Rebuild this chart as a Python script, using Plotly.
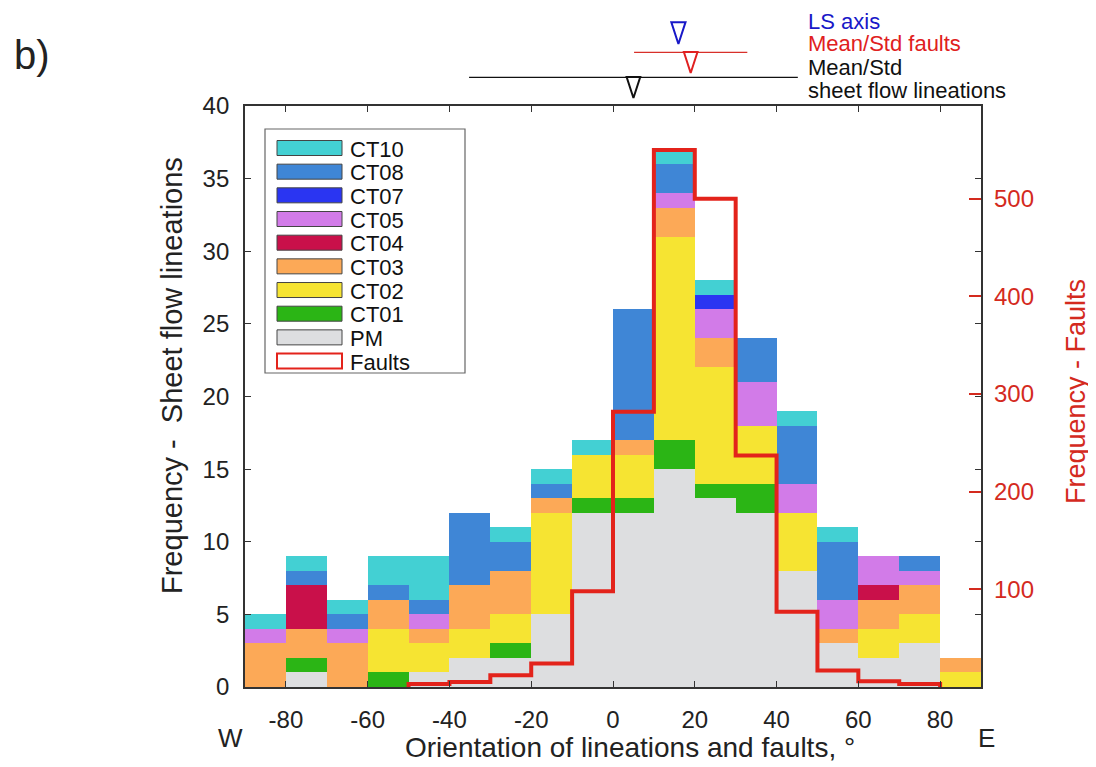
import plotly.graph_objects as go

# ---------------- data ----------------
BIN_CENTERS = [-85, -75, -65, -55, -45, -35, -25, -15, -5, 5, 15, 25, 35, 45, 55, 65, 75, 85]
BIN_WIDTH = 10

PM   = [0, 1, 0, 0, 1, 2, 2, 5, 12, 12, 15, 13, 12, 8, 3, 2, 3, 0]
CT01 = [0, 1, 0, 1, 0, 0, 1, 0, 1, 1, 2, 1, 2, 0, 0, 0, 0, 0]
CT02 = [0, 0, 0, 3, 2, 2, 2, 7, 3, 3, 14, 8, 4, 4, 0, 2, 2, 1]
CT03 = [3, 2, 3, 2, 1, 3, 3, 1, 0, 1, 2, 2, 0, 0, 1, 2, 2, 1]
CT04 = [0, 3, 0, 0, 0, 0, 0, 0, 0, 0, 0, 0, 0, 0, 0, 1, 0, 0]
CT05 = [1, 0, 1, 0, 1, 0, 0, 0, 0, 0, 1, 2, 3, 2, 2, 2, 1, 0]
CT07 = [0, 0, 0, 0, 0, 0, 0, 0, 0, 0, 0, 1, 0, 0, 0, 0, 0, 0]
CT08 = [0, 1, 1, 1, 1, 5, 2, 1, 0, 9, 2, 0, 3, 4, 4, 0, 1, 0]
CT10 = [1, 1, 1, 2, 3, 0, 1, 1, 1, 0, 1, 1, 0, 1, 1, 0, 0, 0]

FAULTS = [0, 0, 0, 0, 3, 5, 12, 24, 98, 282, 550, 500, 237, 77, 17, 6, 3, 0]

LS_AXIS = 16.0
FAULT_MEAN, FAULT_STD = 19.0, 13.85
LIN_MEAN, LIN_STD = 5.0, 40.2

X_TICKS = [-80, -60, -40, -20, 0, 20, 40, 60, 80]
X_TICK_LABELS = ["-80", "-60", "-40", "-20", "0", "20", "40", "60", "80"]
Y_TICKS = [0, 5, 10, 15, 20, 25, 30, 35, 40]
Y2_TICKS = [100, 200, 300, 400, 500]

# stacking order bottom -> top
SERIES = [
    ("PM", PM, "#DDDEE0"),
    ("CT01", CT01, "#2BB515"),
    ("CT02", CT02, "#F6E432"),
    ("CT03", CT03, "#FCA957"),
    ("CT04", CT04, "#C9104A"),
    ("CT05", CT05, "#D27BE8"),
    ("CT07", CT07, "#2A35F2"),
    ("CT08", CT08, "#3F86D6"),
    ("CT10", CT10, "#43D0D3"),
]
RED = "#E3231B"
AXRED = "#D42A1E"
FONT = "Liberation Sans, Arial, Helvetica, sans-serif"
TXT = "#222222"

# ---------------- geometry helpers (screen pixels; page body has 8px margin) ----------------
W, H = 1088, 759
ML, MR, MT, MB = 237, 115, 2, 80
PW, PH = W - ML - MR, H - MT - MB   # 736 x 677, plot spans screen x 245..981, y 10..687
Y_TOP_PX = 106  # top of histogram frame (screen)


def px2x(px):
    return (px - 245) / PW


def py2y(py):
    return (687 - py) / PH


main_top = py2y(Y_TOP_PX)

fig = go.Figure()

for name, vals, col in SERIES:
    fig.add_trace(go.Bar(
        x=BIN_CENTERS, y=vals, width=BIN_WIDTH, name=name,
        marker=dict(color=col, line=dict(width=0)),
        xaxis="x", yaxis="y", showlegend=False,
    ))

# faults step outline
idx = [i for i, v in enumerate(FAULTS) if v > 0]
first, last = idx[0], idx[-1]
sx, sy = [BIN_CENTERS[first] - BIN_WIDTH / 2], [0]
for i in range(first, last + 1):
    sx += [BIN_CENTERS[i] - BIN_WIDTH / 2, BIN_CENTERS[i] + BIN_WIDTH / 2]
    sy += [FAULTS[i], FAULTS[i]]
sx.append(BIN_CENTERS[last] + BIN_WIDTH / 2)
sy.append(0)
fig.add_trace(go.Scatter(x=sx, y=sy, mode="lines", name="Faults",
                         line=dict(color=RED, width=4), yaxis="y2",
                         showlegend=False))

# top markers (y3 = pixel rows below top of strip at screen y=10)
ROW = dict(ls_tip=34, f_line=42.3, f_tip=63, l_line=67.3, l_tip=88)
fig.add_trace(go.Scatter(x=[LS_AXIS], y=[ROW["ls_tip"]], mode="markers", yaxis="y3",
                         marker=dict(symbol="arrow-open", angle=180, size=23,
                                     color="#1818C8", line=dict(width=2, color="#1818C8")),
                         showlegend=False))
fig.add_trace(go.Scatter(x=[FAULT_MEAN - FAULT_STD, FAULT_MEAN + FAULT_STD],
                         y=[ROW["f_line"]] * 2, mode="lines", yaxis="y3",
                         line=dict(color="#D8302A", width=1.3), showlegend=False))
fig.add_trace(go.Scatter(x=[FAULT_MEAN], y=[ROW["f_tip"]], mode="markers", yaxis="y3",
                         marker=dict(symbol="arrow-open", angle=180, size=22,
                                     color="#E02020", line=dict(width=2, color="#E02020")),
                         showlegend=False))
fig.add_trace(go.Scatter(x=[LIN_MEAN - LIN_STD, LIN_MEAN + LIN_STD],
                         y=[ROW["l_line"]] * 2, mode="lines", yaxis="y3",
                         line=dict(color="#111111", width=1.3), showlegend=False))
fig.add_trace(go.Scatter(x=[LIN_MEAN], y=[ROW["l_tip"]], mode="markers", yaxis="y3",
                         marker=dict(symbol="arrow-open", angle=180, size=22,
                                     color="#111111", line=dict(width=2, color="#111111")),
                         showlegend=False))

# ---------------- legend (drawn) ----------------
shapes = []
annotations = []
shapes.append(dict(type="rect", xref="paper", yref="paper",
                   x0=px2x(265), x1=px2x(465), y0=py2y(373), y1=py2y(129),
                   line=dict(color="#666666", width=1.2), fillcolor="white", layer="above"))
legend_items = [(n, c) for n, _, c in reversed(SERIES)] + [("Faults", None)]
for k, (name, col) in enumerate(legend_items):
    cy = 148 + k * 23.67
    if col is None:
        shapes.append(dict(type="rect", xref="paper", yref="paper",
                           x0=px2x(277), x1=px2x(342), y0=py2y(cy + 7.5), y1=py2y(cy - 7.5),
                           line=dict(color=RED, width=2), fillcolor="white", layer="above"))
    else:
        shapes.append(dict(type="rect", xref="paper", yref="paper",
                           x0=px2x(277), x1=px2x(342), y0=py2y(cy + 7.5), y1=py2y(cy - 7.5),
                           line=dict(color="#444444", width=1), fillcolor=col, layer="above"))
    annotations.append(dict(text=name, xref="paper", yref="paper", x=px2x(348), y=py2y(cy + 1),
                            xanchor="left", yanchor="middle", showarrow=False,
                            font=dict(size=22, color="#111111", family=FONT)))


def label(text, px, py, size, color=TXT, angle=0, xanchor="center"):
    return dict(text=text, xref="paper", yref="paper", x=px2x(px), y=py2y(py),
                xanchor=xanchor, yanchor="middle", textangle=angle, showarrow=False,
                font=dict(size=size, color=color, family=FONT))


# ---------------- titles & labels ----------------
annotations += [
    label("Frequency -  Sheet flow lineations", 172, 376, 29, angle=-90),
    label("Frequency - Faults", 1076, 392, 27, color=AXRED, angle=-90),
    label("Orientation of lineations and faults, °", 630, 747, 28),
    label("W", 230, 738, 26),
    label("E", 986, 738, 26),
    label("b)", 32, 55, 40),
    label("LS axis", 806, 21, 22, color="#1818C8", xanchor="left"),
    label("Mean/Std faults", 806, 44, 22, color="#E02020", xanchor="left"),
    label("Mean/Std", 806, 67, 22, color="#111111", xanchor="left"),
    label("sheet flow lineations", 806, 90, 22, color="#111111", xanchor="left"),
]

fig.update_layout(
    width=W, height=H,
    margin=dict(l=ML, r=MR, t=MT, b=MB, autoexpand=False),
    paper_bgcolor="white", plot_bgcolor="white",
    barmode="stack", bargap=0,
    font=dict(family=FONT, color=TXT),
    xaxis=dict(range=[-90, 90], tickvals=X_TICKS, ticktext=X_TICK_LABELS, ticks="inside",
               ticklen=6, tickcolor="#333333", showline=True, linecolor="#333333",
               linewidth=1.8, mirror="ticks", showgrid=False, zeroline=False,
               tickfont=dict(size=24, color=TXT), ticklabelstandoff=10, anchor="y"),
    yaxis=dict(domain=[0, main_top], range=[0, 40], tickvals=Y_TICKS, ticks="inside",
               ticklen=6, tickcolor="#333333", showline=True, linecolor="#333333",
               linewidth=1.8, mirror="ticks", showgrid=False, zeroline=False,
               tickfont=dict(size=24, color=TXT), ticklabelstandoff=9),
    yaxis2=dict(overlaying="y", side="right", range=[0, 595], tickvals=Y2_TICKS,
                ticks="inside", ticklen=12, tickwidth=2, tickcolor=AXRED,
                showline=False, showgrid=False, zeroline=False,
                tickfont=dict(size=24, color=AXRED), ticklabelstandoff=12),
    yaxis3=dict(domain=[main_top, 1], range=[(1 - main_top) * PH, 0],
                visible=False, anchor="x"),
    shapes=shapes,
    annotations=annotations,
    showlegend=False,
)

fig.write_html("out.html")
